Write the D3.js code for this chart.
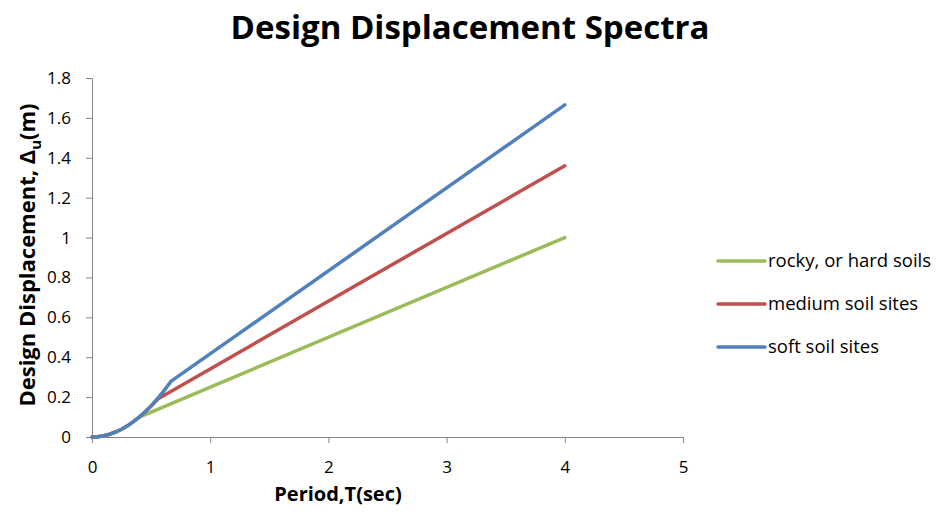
<!DOCTYPE html>
<html>
<head>
<meta charset="utf-8">
<script src="https://cdn.jsdelivr.net/npm/d3@7"></script>
<style>
  body { margin: 0; background: #fff; }
  svg { font-family: "Open Sans", "Liberation Sans", sans-serif; }
</style>
</head>
<body>
<script>
// Values
const seriesNames = ["rocky, or hard soils", "medium soil sites", "soft soil sites"];
const seriesColors = ["#9bbb59", "#c0504d", "#4f81bd"];

const rockyT = [0, 0.05, 0.1, 0.15, 0.2, 0.25, 0.3, 0.35, 0.4, 4];
const rockyD = [0, 0.0015, 0.006, 0.014, 0.025, 0.039, 0.056, 0.077, 0.1, 1.0];

const mediumT = [0, 0.05, 0.1, 0.15, 0.2, 0.25, 0.3, 0.35, 0.4, 0.45, 0.5, 0.56, 4];
const mediumD = [0, 0.0015, 0.006, 0.014, 0.025, 0.039, 0.056, 0.077, 0.1, 0.127, 0.156, 0.192, 1.36];

const softT = [0, 0.05, 0.1, 0.15, 0.2, 0.25, 0.3, 0.35, 0.4, 0.45, 0.5, 0.55, 0.6, 0.67, 4];
const softD = [0, 0.0015, 0.006, 0.014, 0.025, 0.039, 0.056, 0.077, 0.1, 0.127, 0.156, 0.19, 0.225, 0.28, 1.665];

const xTicks = [0, 1, 2, 3, 4, 5];
const yTicks = [0, 0.2, 0.4, 0.6, 0.8, 1, 1.2, 1.4, 1.6, 1.8];

const width = 943, height = 524;
const svg = d3.select("body").append("svg")
  .attr("width", width)
  .attr("height", height);

const x = d3.scaleLinear().domain([0, 5]).range([92, 683]);
const y = d3.scaleLinear().domain([0, 1.8]).range([437, 78]);

// Title
svg.append("text")
  .attr("x", 470).attr("y", 39)
  .attr("text-anchor", "middle")
  .attr("font-size", 33).attr("font-weight", "bold")
  .text("Design Displacement Spectra");

// Axes
const xAxis = svg.append("g")
  .attr("transform", `translate(0,${y(0)})`)
  .call(d3.axisBottom(x).tickValues(xTicks).tickFormat(d3.format("d")).tickSize(6).tickPadding(18));
const yAxis = svg.append("g")
  .attr("transform", `translate(${x(0)},0)`)
  .call(d3.axisLeft(y).tickValues(yTicks).tickFormat(d => d === 0 ? "0" : String(+d.toFixed(1))).tickSize(6).tickPadding(15));

[xAxis, yAxis].forEach(g => {
  g.select(".domain").attr("stroke", "#868686");
  g.selectAll(".tick line").attr("stroke", "#868686");
  g.selectAll(".tick text").attr("font-size", 17).attr("fill", "#000")
    .attr("font-family", "\"Open Sans\", \"Liberation Sans\", sans-serif");
});

// Axis titles
svg.append("text")
  .attr("x", 338).attr("y", 501)
  .attr("text-anchor", "middle")
  .attr("font-size", 20).attr("font-weight", "bold")
  .text("Period,T(sec)");

const yl = svg.append("text")
  .attr("transform", "translate(35,255) rotate(-90)")
  .attr("text-anchor", "middle")
  .attr("font-size", 22).attr("font-weight", "bold");
yl.append("tspan").text("Design Displacement, Δ");
yl.append("tspan").attr("font-size", 15).attr("dy", 6).text("u");
yl.append("tspan").attr("dy", -6).text("(m)");

// Lines
const line = d3.line().x(d => x(d[0])).y(d => y(d[1]));
const series = [
  d3.zip(rockyT, rockyD),
  d3.zip(mediumT, mediumD),
  d3.zip(softT, softD)
];
series.forEach((pts, i) => {
  svg.append("path")
    .datum(pts)
    .attr("d", line)
    .attr("fill", "none")
    .attr("stroke", seriesColors[i])
    .attr("stroke-width", 3.5)
    .attr("stroke-linecap", "round")
    .attr("stroke-linejoin", "round");
});

// Legend
const legend = svg.append("g").attr("transform", "translate(718,261)");
seriesNames.forEach((name, i) => {
  const g = legend.append("g").attr("transform", `translate(0,${i * 43})`);
  g.append("line").attr("x1", 0).attr("x2", 47).attr("y1", 0).attr("y2", 0)
    .attr("stroke", seriesColors[i]).attr("stroke-width", 3.5).attr("stroke-linecap", "round");
  g.append("text").attr("x", 50).attr("y", 0).attr("dy", "0.35em")
    .attr("font-size", 18.5).text(name);
});
</script>
</body>
</html>
